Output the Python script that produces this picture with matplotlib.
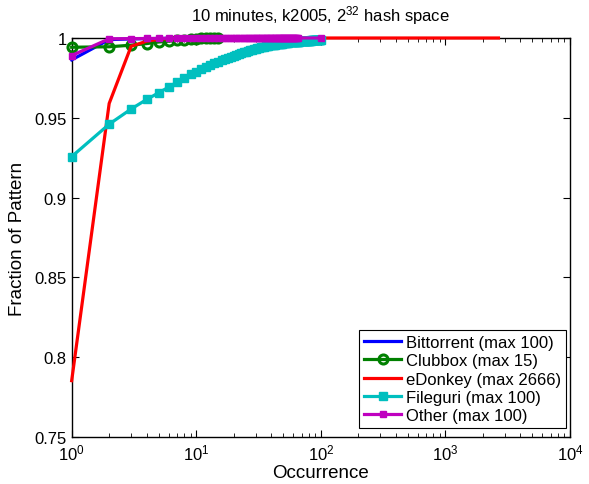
import numpy as np
import matplotlib
matplotlib.use('Agg')
import matplotlib.pyplot as plt

plt.rcParams['font.family'] = ['Liberation Sans', 'DejaVu Sans']
plt.rcParams['mathtext.fontset'] = 'custom'
plt.rcParams['mathtext.rm'] = 'Liberation Sans'
plt.rcParams['mathtext.it'] = 'Liberation Sans'

# cumulative fraction of pattern per occurrence count
bt_x = [1, 2, 3, 4, 5, 6, 8, 10, 15, 20, 30, 50, 100]
bt_y = [0.9863, 0.9990, 0.9994, 0.9996, 0.9997, 0.9998, 0.9999, 0.9999,
        1.0, 1.0, 1.0, 1.0, 1.0]

cb_x = [1, 2, 3, 4, 5, 6, 7, 8, 9, 10, 11, 12, 13, 14, 15]
cb_y = [0.9942, 0.9945, 0.9955, 0.9965, 0.9975, 0.9980, 0.9985, 0.9990,
        0.9993, 0.9995, 0.9997, 0.9998, 0.9999, 0.99995, 1.0]

ed_x = [1, 2, 3, 4, 5, 6, 8, 10, 20, 50, 100, 300, 1000, 2666]
ed_y = [0.7853, 0.9590, 0.9948, 0.9980, 0.9992, 0.9996, 0.9998, 0.9999,
        1.0, 1.0, 1.0, 1.0, 1.0, 1.0]

fg_x = list(range(1, 101))
fg_y = [0.9257, 0.9460, 0.9555, 0.9615, 0.9657, 0.9692, 0.9723, 0.9752, 0.9772, 0.9790,
        0.9805, 0.9818, 0.9830, 0.9841, 0.9851, 0.9860, 0.9868, 0.9876, 0.9883, 0.9890,
        0.9896, 0.9901, 0.9906, 0.9911, 0.9915, 0.9919, 0.9923, 0.9927, 0.9930, 0.9933,
        0.9936, 0.9939, 0.9942, 0.9944, 0.9946, 0.9948, 0.9950, 0.9952, 0.9954, 0.9956,
        0.9957, 0.9958, 0.9959, 0.9960, 0.9961, 0.9962, 0.9963, 0.9964, 0.9965, 0.9966,
        0.9967, 0.9968, 0.9969, 0.9970, 0.9971, 0.9972, 0.9972, 0.9973, 0.9974, 0.9975,
        0.9975, 0.9976, 0.9976, 0.9977, 0.9977, 0.9978, 0.9978, 0.9979, 0.9979, 0.9980,
        0.9980, 0.9981, 0.9981, 0.9981, 0.9982, 0.9982, 0.9982, 0.9983, 0.9983, 0.9983,
        0.9984, 0.9984, 0.9984, 0.9985, 0.9985, 0.9985, 0.9986, 0.9986, 0.9986, 0.9987,
        0.9987, 0.9987, 0.9987, 0.9988, 0.9988, 0.9988, 0.9988, 0.9989, 0.9989, 0.9990]

ot_x = list(range(1, 66)) + [100]
ot_y = [0.9890, 0.9995, 0.9996, 0.9997, 0.9997, 0.9998, 0.9998, 0.9998, 0.9998, 0.9999,
        0.9999, 0.9999, 0.9999, 0.9999, 0.9999, 0.9999, 0.9999, 0.9999, 0.9999, 0.9999,
        1.0, 1.0, 1.0, 1.0, 1.0, 1.0, 1.0, 1.0, 1.0, 1.0,
        1.0, 1.0, 1.0, 1.0, 1.0, 1.0, 1.0, 1.0, 1.0, 1.0,
        1.0, 1.0, 1.0, 1.0, 1.0, 1.0, 1.0, 1.0, 1.0, 1.0,
        1.0, 1.0, 1.0, 1.0, 1.0, 1.0, 1.0, 1.0, 1.0, 1.0,
        1.0, 1.0, 1.0, 1.0, 1.0, 1.0]

labels = ['Bittorrent (max 100)', 'Clubbox (max 15)', 'eDonkey (max 2666)',
          'Fileguri (max 100)', 'Other (max 100)']
yticks = [0.75, 0.8, 0.85, 0.9, 0.95, 1.0]
ytick_labels = ['0.75', '0.8', '0.85', '0.9', '0.95', '1']
xticks = [1, 10, 100, 1000, 10000]
xtick_labels = ['$10^{0}$', '$10^{1}$', '$10^{2}$', '$10^{3}$', '$10^{4}$']

fig = plt.figure(figsize=(5.89, 4.85), dpi=100)
ax = fig.add_axes([0.1217, 0.0969, 0.846, 0.8227])

lw = 2.3
ax.plot(bt_x, bt_y, color='#0000ff', lw=lw, label=labels[0], clip_on=False, zorder=3)
ax.plot(cb_x, cb_y, color='#008000', lw=lw, marker='o', ms=6.5, mew=2.2,
        mfc='none', label=labels[1], clip_on=False, zorder=3)
ax.plot(ed_x, ed_y, color='#ff0000', lw=lw, label=labels[2], clip_on=False, zorder=3)
ax.plot(fg_x, fg_y, color='#00bfbf', lw=lw, marker='s', ms=5.5,
        label=labels[3], clip_on=False, zorder=3)
ax.plot(ot_x, ot_y, color='#bf00bf', lw=lw, marker='s', ms=4,
        label=labels[4], clip_on=False, zorder=3)

ax.set_xscale('log')
ax.set_xlim(1, 10000)
ax.set_ylim(0.75, 1.0)
ax.set_xticks(xticks)
ax.set_xticklabels(xtick_labels)
ax.set_yticks(yticks)
ax.set_yticklabels(ytick_labels)
ax.tick_params(which='both', direction='in', top=True, right=True, labelsize=12)
ax.tick_params(which='major', length=5, width=0.8)
ax.tick_params(which='minor', length=3, width=0.6)
ax.tick_params(axis='x', pad=4)
for s in ax.spines.values():
    s.set_linewidth(1.0)

ax.set_title('10 minutes, k2005, 2$^{32}$ hash space', fontsize=12, pad=13)
ax.set_xlabel('Occurrence', fontsize=13.5, labelpad=1)
ax.set_ylabel('Fraction of Pattern', fontsize=13.5, labelpad=6)

leg = ax.legend(loc='lower right', bbox_to_anchor=(0.992, 0.022), fontsize=12,
                fancybox=False, framealpha=1, edgecolor='black', borderpad=0.3,
                labelspacing=0.2, handlelength=2.2, handletextpad=0.3,
                borderaxespad=0)
leg.get_frame().set_linewidth(0.8)

fig.savefig('out.png', dpi=100)
